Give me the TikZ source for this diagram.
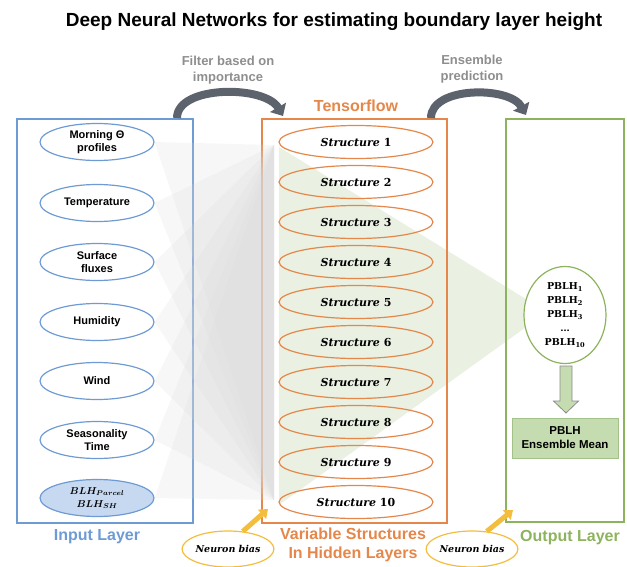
\documentclass[tikz,border=0pt]{standalone}
\usepackage{fontspec}
\setmainfont{Liberation Sans}
\newfontfamily\lmr{DejaVu Serif}
\usepackage{bm}
\usetikzlibrary{arrows.meta,shapes.geometric}
\definecolor{cblue}{HTML}{6E9BD4}
\definecolor{cbluefill}{HTML}{C6D9F0}
\definecolor{corange}{HTML}{E5874A}
\definecolor{cgreen}{HTML}{8DB35E}
\definecolor{cgreenfill}{HTML}{C5DCB0}
\definecolor{cgreenbd}{HTML}{A3C28A}
\definecolor{cgreenlt}{HTML}{EAF1E2}
\definecolor{cyellow}{HTML}{F3BE3E}
\definecolor{cgraytxt}{HTML}{8E8E8E}
\definecolor{carrow}{HTML}{5C636C}
\tikzset{
  inell/.style={ellipse, draw=cblue, line width=1.2pt, minimum width=114pt, minimum height=37pt, inner sep=0pt, align=center, font=\bfseries\fontsize{11}{13}\selectfont},
  stell/.style={ellipse, draw=corange, line width=1.2pt, minimum width=154pt, minimum height=33pt, inner sep=0pt, font=\lmr\bfseries\fontsize{11}{13}\selectfont},
  nbell/.style={ellipse, draw=cyellow, line width=1.2pt, fill=white, minimum width=77pt, minimum height=36pt, inner sep=0pt, font=\lmr\bfseries\itshape\fontsize{9.5}{12}\selectfont},
  layerbox/.style={rectangle, line width=1.6pt, inner sep=0pt},
  rayfill/.style={fill=black!15, opacity=0.2},
  bigarrow/.style={line width=8pt, draw=carrow, -{Triangle[width=18pt,length=10pt]}},
  yarrow/.style={line width=5pt, draw=cyellow, -{Triangle[width=12pt,length=8pt]}},
  graylbl/.style={text=cgraytxt, font=\bfseries\fontsize{13}{15.5}\selectfont, align=center},
}
\begin{document}
\begin{tikzpicture}[x=1pt,y=-1pt]
\useasboundingbox (0,0) rectangle (627,566);
% green background triangle
\coordinate (g1) at (279,147);
\coordinate (g2) at (547,312);
\coordinate (g3) at (279,505);
\fill[cgreenlt] (g1) -- (g2) -- (g3) -- cycle;
% title
\node[font=\bfseries\fontsize{19}{22}\selectfont] (title) at (334,22) {Deep Neural Networks for estimating boundary layer height};
% boxes
\node[layerbox, draw=cblue, minimum width=176pt, minimum height=404pt] (inbox) at (105,321) {};
\node[layerbox, draw=corange, minimum width=185pt, minimum height=404pt] (hidbox) at (354.5,321) {};
\node[layerbox, draw=cgreen, minimum width=118pt, minimum height=403pt] (outbox) at (565,320.5) {};
% input ellipses
\node[inell] (in1) at (97,142) {Morning \char"0398\\profiles};
\node[inell] (in2) at (97,203) {Temperature};
\node[inell] (in3) at (97,262) {Surface\\fluxes};
\node[inell] (in4) at (97,322) {Humidity};
\node[inell] (in5) at (97,381) {Wind};
\node[inell] (in6) at (97,440) {Seasonality\\Time};
\node[inell, fill=cbluefill, font=\fontsize{10}{13}\selectfont] (in7) at (97,498) {$\bm{BLH_{Parcel}}$\\$\bm{BLH_{SH}}$};
% structures
\foreach \i in {1,...,10}{
  \node[stell] (s\i) at (356,{142+40*(\i-1)}) {\textit{Structure} \i};
}
% gray rays
\coordinate (gtop) at (274,145);
\coordinate (gbot) at (274,500);
\foreach \i in {1,...,7}{
  \fill[rayfill] (in\i.east) -- (gtop) -- (gbot) -- cycle;
}
% output ellipse
\node[ellipse, draw=cgreen, line width=1.2pt, fill=white, minimum width=82pt, minimum height=97pt, inner sep=0pt, align=center, font=\lmr\bfseries\fontsize{9.5}{14}\selectfont] (pblh) at (565,315)
  {PBLH\textsubscript{1}\\PBLH\textsubscript{2}\\PBLH\textsubscript{3}\\\dots\\PBLH\textsubscript{10}};
\node[rectangle, draw=cgreenbd, fill=cgreenfill, line width=1pt, minimum width=106pt, minimum height=40pt, align=center, font=\bfseries\fontsize{11.5}{14}\selectfont] (mean) at (565,438) {PBLH\\Ensemble Mean};
% block down arrow
\fill[cgreenfill, draw=black!45, line width=0.8pt] (560,366) -- (572,366) -- (572,401) -- (578.5,401) -- (566,413) -- (553.5,401) -- (560,401) -- cycle;
% curved arrows
\coordinate (a1s) at (177,118);
\coordinate (a1e) at (283,116);
\coordinate (a2s) at (431,118);
\coordinate (a2e) at (526,115);
\draw[bigarrow] (a1s) .. controls (177,85) and (265,85) .. (a1e);
\draw[bigarrow] (a2s) .. controls (431,86) and (510,86) .. (a2e);
% labels
\node[graylbl] (flt) at (228,70) {Filter based on\\importance};
\node[graylbl] (ens) at (472,69) {Ensemble\\prediction};
\node[text=corange, font=\bfseries\fontsize{16}{19}\selectfont] (tf) at (356,106) {Tensorflow};
\node[text=cblue, font=\bfseries\fontsize{16}{19}\selectfont] (inl) at (97,537) {Input Layer};
\node[text=corange, font=\bfseries\fontsize{16}{18.5}\selectfont, align=center] (hidl) at (353,545) {Variable Structures\\In Hidden Layers};
\node[text=cgreen, font=\bfseries\fontsize{16}{19}\selectfont] (outl) at (570,538) {Output Layer};
% neuron bias
\node[nbell] (nb1) at (228,549) {Neuron bias};
\node[nbell] (nb2) at (472,549) {Neuron bias};
\coordinate (hc1) at (268,509);
\coordinate (hc2) at (513,510);
\draw[yarrow] (nb1.50) -- (hc1);
\draw[yarrow] (nb2.50) -- (hc2);
\end{tikzpicture}
\end{document}
